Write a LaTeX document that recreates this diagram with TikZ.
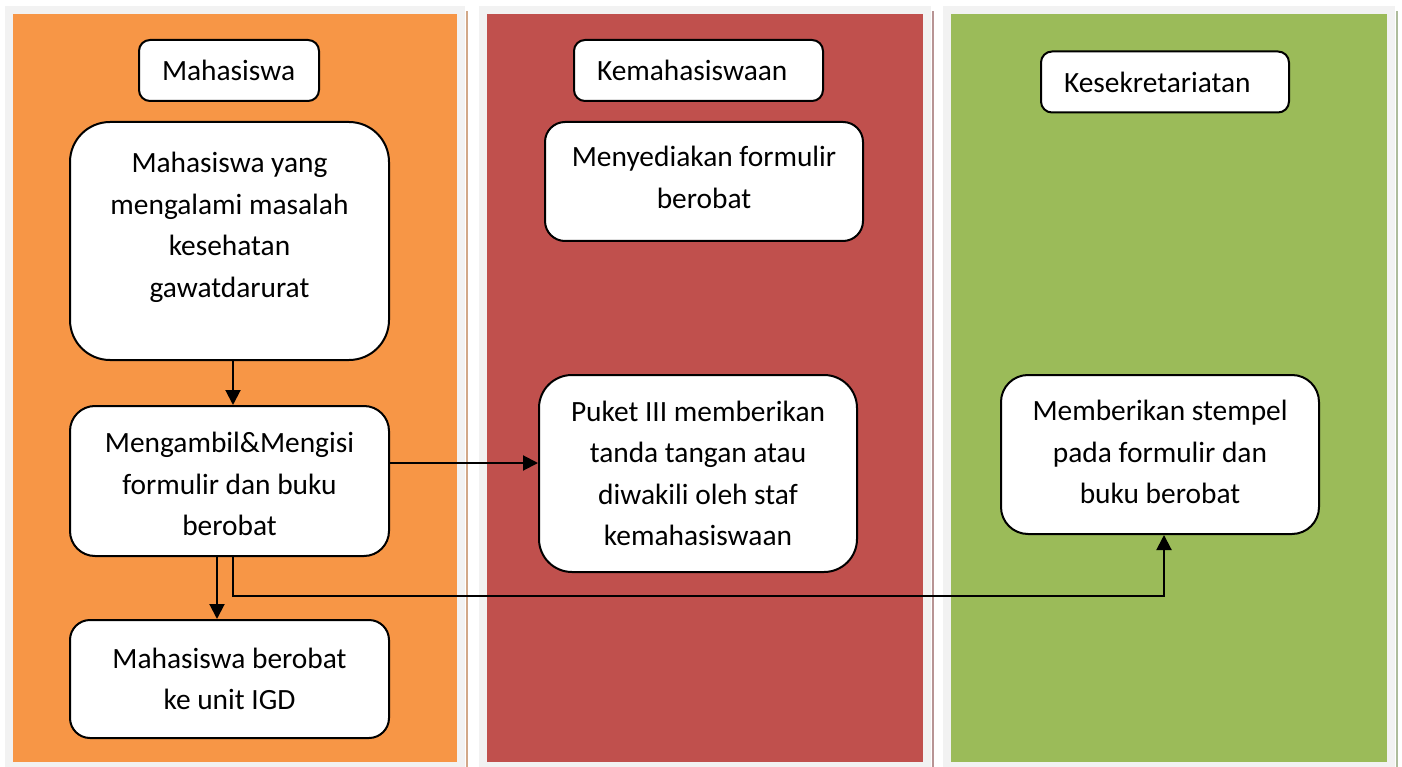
\documentclass[tikz,border=0pt]{standalone}
\usepackage{fontspec}
\setmainfont{Carlito}
\usetikzlibrary{arrows.meta}
\definecolor{frameGray}{HTML}{F2F2F2}
\definecolor{laneOrange}{HTML}{F79646}
\definecolor{laneRed}{HTML}{C0504D}
\definecolor{laneGreen}{HTML}{9BBB59}
\definecolor{shOrange}{HTML}{D2A888}
\definecolor{shRed}{HTML}{B89494}
\definecolor{shGreen}{HTML}{AEBC9C}
\newcommand\boxfont{\fontsize{29.4}{41.5}\selectfont}
\tikzset{
  box/.style={draw, line width=2pt, fill=white, align=center, font=\boxfont, inner sep=0pt},
  headbox/.style={draw, line width=2pt, fill=white, rounded corners=11pt, align=left,
     font=\fontsize{29.4}{34}\selectfont, inner xsep=23pt, inner ysep=0pt, minimum height=61pt},
  txt/.style={align=center, font=\boxfont, inner sep=0pt},
  arr/.style={line width=2pt, -{Triangle[length=15pt,width=15pt]}}
}
\begin{document}
\begin{tikzpicture}[x=1pt,y=-1pt]
\useasboundingbox (0,0) rectangle (1402,767);
\fill[white] (0,0) rectangle (1402,767);
% lane frames
\fill[frameGray] (5,6) rectangle (465,767);
\fill[shOrange] (466,11) rectangle (468,767);
\fill[laneOrange] (13,14) rectangle (457,762);
\fill[frameGray] (479,6) rectangle (931,767);
\fill[shRed] (932,11) rectangle (934,767);
\fill[laneRed] (487,14) rectangle (923,762);
\fill[frameGray] (943,6) rectangle (1395,767);
\fill[shGreen] (1396,11) rectangle (1398,767);
\fill[laneGreen] (951,14) rectangle (1387,762);
% headers
\node[headbox, text width=134pt] (h1) at (229,70.5) {Mahasiswa};
\node[headbox, text width=203pt] (h2) at (698.5,70.5) {Kemahasiswaan};
\node[headbox, text width=202pt] (h3) at (1165,82) {\raisebox{-2pt}{Kesekretariatan}};
% boxes
\node[box, rounded corners=40pt, minimum width=319pt, minimum height=238pt] (b1) at (229.5,241) {};
\node[txt] (t1) at (229.5,227.5) {Mahasiswa yang\\mengalami masalah\\kesehatan\\gawatdarurat};
\node[box, rounded corners=25pt, minimum width=319pt, minimum height=150pt] (b2) at (229.5,481) {};
\node[txt] (t2) at (229.5,484) {Mengambil\&Mengisi\\formulir dan buku\\berobat};
\node[box, rounded corners=20pt, minimum width=319pt, minimum height=118pt] (b3) at (229.5,679) {Mahasiswa berobat\\ke unit IGD};
\node[box, rounded corners=20pt, minimum width=318pt, minimum height=119pt] (k1) at (704,181.5) {};
\node[txt] (tk1) at (704,177.5) {Menyediakan formulir\\berobat};
\node[box, rounded corners=33pt, minimum width=318pt, minimum height=197pt] (k2) at (698,473.5) {Puket III memberikan\\tanda tangan atau\\diwakili oleh staf\\kemahasiswaan};
\node[box, rounded corners=27pt, minimum width=318pt, minimum height=159pt] (s1) at (1160,454.5) {};
\node[txt] (ts1) at (1160,452) {Memberikan stempel\\pada formulir dan\\buku berobat};
% connectors
\draw[arr] ([xshift=3.5pt]b1.south) -- ([xshift=3.5pt]b2.north);
\draw[arr] ([xshift=-12.5pt]b2.south) -- ([xshift=-12.5pt]b3.north);
\coordinate (c1) at ([yshift=18pt]b2.east);
\draw[arr] (c1) -- (c1 -| k2.west);
\coordinate (c2) at ([xshift=3.5pt]b2.south);
\coordinate (c3) at ([xshift=4pt]s1.south);
\draw[arr] (c2) -- ++(0,39) -| (c3);
\end{tikzpicture}
\end{document}
